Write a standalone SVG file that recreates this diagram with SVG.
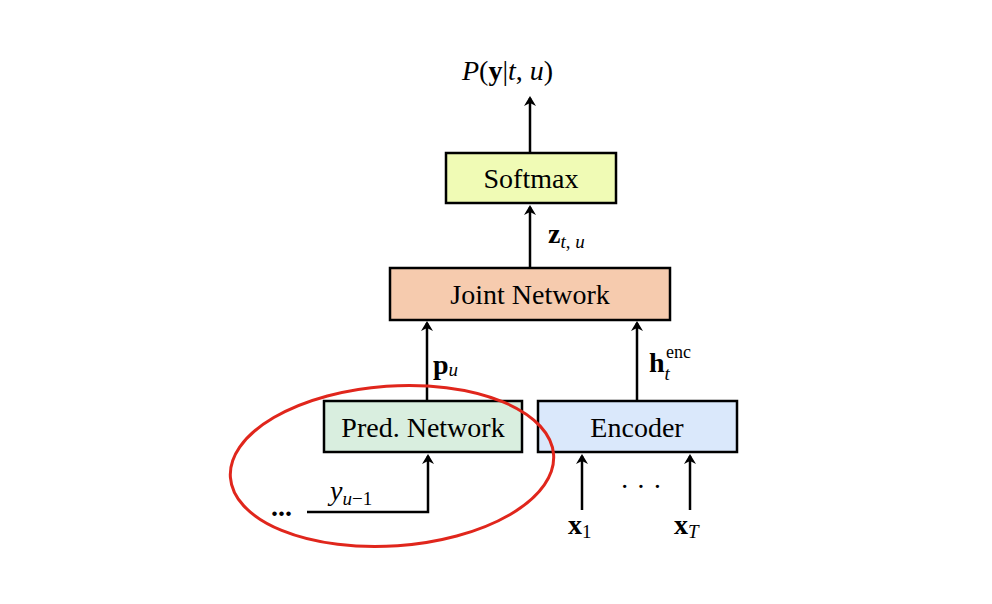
<svg xmlns="http://www.w3.org/2000/svg" width="992" height="604" viewBox="0 0 992 604">
<style>
.box{stroke:#000;stroke-width:2.5}
.t{font-family:"Liberation Serif",serif;font-size:28px;text-anchor:middle}
.m{font-family:"Liberation Serif",serif;font-size:28px}
.s{font-size:19px}
.c{stroke:#000;stroke-width:2.5;fill:none;marker-end:url(#a)}
</style>
<defs><marker id="a" markerWidth="10" markerHeight="12" refX="8" refY="6" orient="auto" markerUnits="userSpaceOnUse"><path d="M0,0 L10,6 L0,12 L3,6 Z"/></marker></defs>
<rect width="992" height="604" fill="#fff"/>
<g id="softmax"><rect class="box" x="446" y="153" width="170" height="50" fill="#f0fbb5"/><text class="t" x="531" y="188">Softmax</text></g>
<g id="joint"><rect class="box" x="390" y="268" width="280" height="52" fill="#f6cbae"/><text class="t" x="530" y="304">Joint Network</text></g>
<g id="pred"><rect class="box" x="324" y="401" width="198" height="51" fill="#d9eedf"/><text class="t" x="423" y="437">Pred. Network</text></g>
<g id="encoder"><rect class="box" x="538" y="401" width="199" height="51" fill="#dae8fb"/><text class="t" x="637" y="437">Encoder</text></g>
<g id="connectors">
<path class="c" d="M530,153 V98"/>
<path class="c" d="M530,268 V207"/>
<path class="c" d="M427,401 V323"/>
<path class="c" d="M637,401 V323"/>
<path class="c" d="M307,512 H428 V456"/>
<path class="c" d="M582,510 V456"/>
<path class="c" d="M690,510 V456"/>
</g>
<g id="labels">
<text class="m" x="462" y="80"><tspan font-style="italic">P</tspan>(<tspan font-weight="bold">y</tspan>|<tspan font-style="italic">t</tspan>, <tspan font-style="italic">u</tspan>)</text>
<text class="m" x="548" y="243"><tspan font-weight="bold">z</tspan><tspan class="s" font-style="italic" dy="5">t</tspan><tspan class="s">, </tspan><tspan class="s" font-style="italic">u</tspan></text>
<text class="m" x="433" y="374"><tspan font-weight="bold">p</tspan><tspan class="s" font-style="italic" dy="2">u</tspan></text>
<text class="m" x="649" y="372"><tspan font-weight="bold">h</tspan><tspan class="s" font-style="italic" dy="8" dx="0">t</tspan></text>
<text class="m s" x="666" y="358" style="font-size:18px">enc</text>
<text class="m" x="330" y="500"><tspan font-style="italic">y</tspan><tspan class="s" font-style="italic" dy="5">u</tspan><tspan class="s">−1</tspan></text>
<text class="m" x="271" y="516" font-weight="bold">...</text>
<text class="m" x="620" y="496">· · ·</text>
<text class="m" x="568" y="534"><tspan font-weight="bold">x</tspan><tspan class="s" dy="4">1</tspan></text>
<text class="m" x="674" y="534"><tspan font-weight="bold">x</tspan><tspan class="s" font-style="italic" dy="4">T</tspan></text>
</g>
<ellipse cx="392" cy="466" rx="162" ry="80" transform="rotate(-4 392 466)" fill="none" stroke="#e0261c" stroke-width="3"/>
</svg>
